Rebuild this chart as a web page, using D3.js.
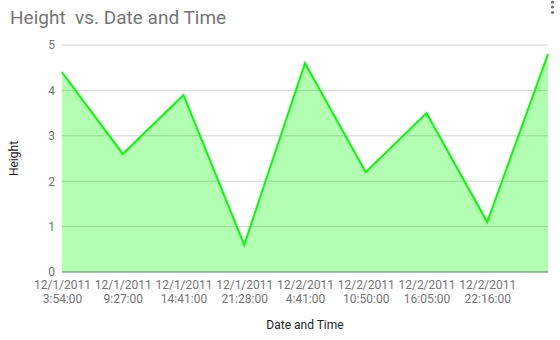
<!DOCTYPE html>
<html>
<head>
<meta charset="utf-8">
<script src="https://cdn.jsdelivr.net/npm/d3@7"></script>
<style>
  body { margin: 0; background: #fff; }
  svg { font-family: Roboto, "Noto Sans", sans-serif; }
</style>
</head>
<body>
<div id="chart"></div>
<script>
// data
var dates = ["12/1/2011", "12/1/2011", "12/1/2011", "12/1/2011", "12/2/2011", "12/2/2011", "12/2/2011", "12/2/2011", "12/3/2011"]
var times = ["3:54:00", "9:27:00", "14:41:00", "21:28:00", "4:41:00", "10:50:00", "16:05:00", "22:16:00", "4:20:00"]
var heights = [4.4, 2.6, 3.9, 0.6, 4.6, 2.2, 3.5, 1.1, 4.8]
var yTicks = [0, 1, 2, 3, 4, 5]

var svgWidth = 560
var svgHeight = 340
var margin = { top: 45, right: 12, bottom: 68, left: 62 }
var chartWidth = svgWidth - margin.left - margin.right
var chartHeight = svgHeight - margin.top - margin.bottom

var svg = d3.select("#chart")
    .append("svg")
    .attr("width", svgWidth)
    .attr("height", svgHeight)

var chartGroup = svg.append("g")
    .attr("transform", `translate(${margin.left}, ${margin.top})`)

var data = heights.map((h, i) => ({ key: i, date: dates[i], time: times[i], height: h }))

var xScale = d3.scalePoint()
    .domain(data.map(d => d.key))
    .range([0, chartWidth])

var yScale = d3.scaleLinear()
    .domain([0, 5])
    .range([chartHeight, 0])

// gridlines
chartGroup.append("g")
    .selectAll("line")
    .data(yTicks.filter(t => t > 0))
    .enter()
    .append("line")
    .attr("x1", 0)
    .attr("x2", chartWidth)
    .attr("y1", d => yScale(d))
    .attr("y2", d => yScale(d))
    .attr("stroke", "#e0e0e0")
    .attr("stroke-width", 1)

// area + line
var area = d3.area()
    .x(d => xScale(d.key))
    .y0(yScale(0))
    .y1(d => yScale(d.height))

var line = d3.line()
    .x(d => xScale(d.key))
    .y(d => yScale(d.height))

chartGroup.append("path")
    .datum(data)
    .attr("d", area)
    .attr("fill", "#00ff00")
    .attr("fill-opacity", 0.3)

// gridlines drawn over fill faintly
chartGroup.append("g")
    .selectAll("line")
    .data(yTicks.filter(t => t > 0))
    .enter()
    .append("line")
    .attr("x1", 0)
    .attr("x2", chartWidth)
    .attr("y1", d => yScale(d))
    .attr("y2", d => yScale(d))
    .attr("stroke", "#000")
    .attr("stroke-opacity", 0.06)

chartGroup.append("path")
    .datum(data)
    .attr("d", line)
    .attr("fill", "none")
    .attr("stroke", "#00ff00")
    .attr("stroke-width", 2)

// baseline
chartGroup.append("line")
    .attr("x1", 0)
    .attr("x2", chartWidth)
    .attr("y1", yScale(0))
    .attr("y2", yScale(0))
    .attr("stroke", "#5a7a5a")
    .attr("stroke-width", 1.2)

// y axis
var yAxis = d3.axisLeft(yScale).tickValues(yTicks).tickFormat(d3.format("d")).tickSize(0).tickPadding(7)
var yG = chartGroup.append("g").call(yAxis)
yG.select(".domain").remove()
yG.selectAll("text")
    .attr("fill", "#757575")
    .attr("font-size", 12)
    .attr("font-family", "Roboto, sans-serif")

// x axis (last label does not fit)
var xAxis = d3.axisBottom(xScale)
    .tickValues(data.slice(0, 8).map(d => d.key))
    .tickSize(0)
    .tickFormat("")
var xG = chartGroup.append("g")
    .attr("transform", `translate(0, ${chartHeight})`)
    .call(xAxis)
xG.select(".domain").remove()
xG.selectAll(".tick").each(function (k) {
    var t = d3.select(this).append("text")
        .attr("fill", "#757575")
        .attr("font-size", 12)
        .attr("font-family", "Roboto, sans-serif")
        .attr("text-anchor", "middle")
    t.append("tspan").attr("x", 0).attr("y", 17).text(data[k].date)
    t.append("tspan").attr("x", 0).attr("y", 31).text(data[k].time)
})

// title
svg.append("text")
    .attr("x", 10)
    .attr("y", 24)
    .attr("font-size", 19)
    .attr("fill", "#757575")
    .attr("xml:space", "preserve")
    .style("white-space", "pre")
    .text("Height  vs. Date and Time")

// axis titles
svg.append("text")
    .attr("x", margin.left + chartWidth / 2)
    .attr("y", 329)
    .attr("text-anchor", "middle")
    .attr("font-size", 12)
    .attr("fill", "#222")
    .text("Date and Time")

svg.append("text")
    .attr("transform", `translate(18, ${margin.top + chartHeight / 2}) rotate(-90)`)
    .attr("text-anchor", "middle")
    .attr("font-size", 12)
    .attr("fill", "#222")
    .text("Height")

// menu dots
svg.append("g")
    .selectAll("circle")
    .data([2, 7, 12.5])
    .enter()
    .append("circle")
    .attr("cx", 552.5)
    .attr("cy", d => d)
    .attr("r", 1.6)
    .attr("fill", "#757575")
</script>
</body>
</html>
